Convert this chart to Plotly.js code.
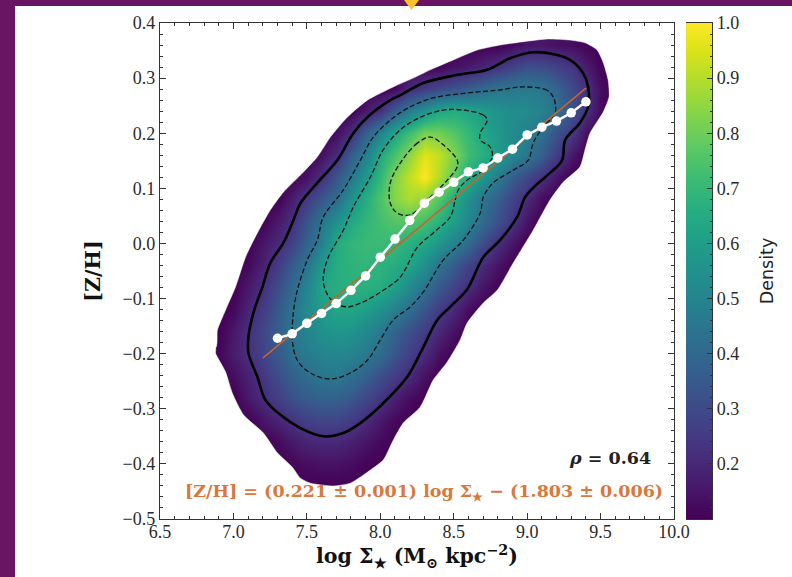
<!DOCTYPE html>
<html>
<head>
<meta charset="utf-8">
<script src="https://cdn.plot.ly/plotly-3.0.1.min.js"></script>
<style>
html,body{margin:0;padding:0;width:792px;height:577px;overflow:hidden;background:#6a1464;}
#chart{position:absolute;left:15px;top:6px;width:777px;height:571px;background:#fff;}
#marker{position:absolute;left:404px;top:0;width:15px;height:10px;background:#fbc02d;clip-path:polygon(0 0,100% 0,50% 100%);z-index:5;}
</style>
</head>
<body>
<div id="chart"></div>
<div id="marker"></div>
<script>
const gridX = [6.8,6.9,7.0,7.1,7.2,7.3,7.4,7.5,7.6,7.7,7.8,7.9,8.0,8.1,8.2,8.3,8.4,8.5,8.6,8.7,8.8,8.9,9.0,9.1,9.2,9.3,9.4,9.5,9.6];
const gridY = [0.36,0.32,0.28,0.24,0.20,0.16,0.12,0.08,0.04,0.0,-0.04,-0.08,-0.12,-0.16,-0.20,-0.24,-0.28,-0.32,-0.36,-0.40,-0.44];
const density = [
[.1,.1,.1,.1,.1,.1,.1,.1,.1,.1,.1,.1,.1,.1,.1,.1,.1,.1,.1,.1,.1,.12,.15,.155,.14,.13,.11,.1,.1],
[.1,.1,.1,.1,.1,.1,.1,.1,.1,.1,.1,.1,.1,.1,.1,.1,.11,.14,.16,.19,.23,.28,.32,.31,.28,.24,.17,.11,.1],
[.1,.1,.1,.1,.1,.1,.1,.1,.1,.1,.1,.1,.1,.12,.21,.26,.3,.33,.37,.41,.45,.46,.47,.46,.39,.31,.23,.13,.1],
[.1,.1,.1,.1,.1,.1,.1,.1,.1,.1,.1,.16,.23,.36,.48,.56,.63,.66,.63,.6,.56,.54,.53,.5,.44,.33,.23,.12,.1],
[.1,.1,.1,.1,.1,.1,.1,.1,.1,.13,.21,.37,.5,.63,.72,.82,.81,.76,.7,.64,.58,.53,.49,.43,.33,.25,.14,.1,.1],
[.1,.1,.1,.1,.1,.1,.1,.1,.14,.21,.36,.49,.65,.74,.85,.96,.92,.83,.72,.67,.6,.52,.46,.37,.26,.16,.1,.1,.1],
[.1,.1,.1,.1,.1,.1,.1,.14,.22,.34,.45,.58,.7,.83,.92,1.0,.9,.78,.65,.58,.48,.37,.3,.23,.15,.1,.1,.1,.1],
[.1,.1,.1,.1,.1,.1,.17,.25,.34,.42,.55,.66,.75,.84,.89,.85,.76,.65,.55,.45,.37,.28,.21,.13,.1,.1,.1,.1,.1],
[.1,.1,.1,.1,.1,.16,.22,.33,.45,.55,.64,.69,.73,.76,.76,.73,.68,.61,.51,.42,.33,.24,.15,.1,.1,.1,.1,.1,.1],
[.1,.1,.1,.1,.15,.2,.27,.38,.49,.65,.69,.71,.71,.7,.67,.64,.58,.5,.41,.31,.22,.15,.1,.1,.1,.1,.1,.1,.1],
[.1,.1,.1,.12,.18,.26,.35,.45,.58,.66,.68,.69,.68,.66,.63,.55,.45,.36,.28,.21,.15,.1,.1,.1,.1,.1,.1,.1,.1],
[.1,.1,.1,.16,.22,.31,.41,.51,.63,.66,.67,.67,.66,.61,.52,.44,.35,.28,.21,.15,.1,.1,.1,.1,.1,.1,.1,.1,.1],
[.1,.1,.12,.19,.26,.35,.44,.53,.59,.63,.63,.6,.55,.49,.42,.33,.26,.2,.13,.1,.1,.1,.1,.1,.1,.1,.1,.1,.1],
[.1,.1,.16,.22,.29,.37,.45,.5,.55,.57,.56,.52,.46,.39,.32,.26,.2,.14,.1,.1,.1,.1,.1,.1,.1,.1,.1,.1,.1],
[.1,.11,.17,.22,.28,.35,.43,.47,.5,.51,.5,.47,.41,.34,.27,.21,.14,.1,.1,.1,.1,.1,.1,.1,.1,.1,.1,.1,.1],
[.1,.1,.13,.18,.24,.31,.37,.42,.45,.46,.43,.38,.32,.26,.21,.14,.1,.1,.1,.1,.1,.1,.1,.1,.1,.1,.1,.1,.1],
[.1,.1,.1,.16,.21,.27,.32,.36,.38,.38,.35,.3,.24,.18,.13,.1,.1,.1,.1,.1,.1,.1,.1,.1,.1,.1,.1,.1,.1],
[.1,.1,.1,.1,.15,.19,.23,.27,.29,.29,.26,.21,.16,.12,.1,.1,.1,.1,.1,.1,.1,.1,.1,.1,.1,.1,.1,.1,.1],
[.1,.1,.1,.1,.1,.12,.16,.19,.2,.2,.18,.15,.12,.1,.1,.1,.1,.1,.1,.1,.1,.1,.1,.1,.1,.1,.1,.1,.1],
[.1,.1,.1,.1,.1,.1,.11,.13,.14,.14,.13,.11,.1,.1,.1,.1,.1,.1,.1,.1,.1,.1,.1,.1,.1,.1,.1,.1,.1],
[.1,.1,.1,.1,.1,.1,.1,.1,.1,.1,.1,.1,.1,.1,.1,.1,.1,.1,.1,.1,.1,.1,.1,.1,.1,.1,.1,.1,.1]
];
const edgeX = [6.878,6.878,6.946,6.993,7.068,7.204,7.299,7.401,7.456,7.524,7.680,7.796,7.912,8.020,8.088,8.156,8.272,8.360,8.456,8.544,8.592,8.701,8.796,8.904,9.041,9.156,9.245,9.360,9.394,9.428,9.517,9.558,9.551,9.517,9.476,9.395,9.292,9.136,8.973,8.816,8.660,8.497,8.340,8.224,8.088,7.912,7.775,7.660,7.571,7.456,7.340,7.252,7.163,7.082,7.014,6.946,6.891,6.878];
const edgeY = [-0.190,-0.199,-0.233,-0.272,-0.311,-0.344,-0.380,-0.406,-0.426,-0.435,-0.440,-0.435,-0.415,-0.393,-0.357,-0.326,-0.297,-0.248,-0.215,-0.175,-0.144,-0.108,-0.085,-0.036,0.024,0.079,0.111,0.139,0.170,0.200,0.238,0.266,0.297,0.329,0.351,0.364,0.369,0.371,0.366,0.360,0.351,0.333,0.315,0.300,0.284,0.260,0.229,0.193,0.157,0.124,0.093,0.061,0.019,-0.025,-0.079,-0.121,-0.157,-0.190];
const solidX = [8.293,8.136,8.068,7.912,7.816,7.707,7.571,7.456,7.408,7.340,7.252,7.197,7.136,7.102,7.102,7.163,7.218,7.320,7.456,7.612,7.748,7.864,8.020,8.184,8.293,8.388,8.476,8.592,8.701,8.816,8.932,8.986,9.041,9.156,9.238,9.259,9.360,9.415,9.415,9.381,9.292,9.204,9.041,8.884,8.728,8.524,8.293];
const solidY = [0.291,0.269,0.260,0.229,0.200,0.151,0.110,0.073,0.042,0.001,-0.035,-0.079,-0.126,-0.170,-0.199,-0.242,-0.284,-0.311,-0.335,-0.350,-0.344,-0.326,-0.290,-0.242,-0.188,-0.139,-0.115,-0.083,-0.025,0.006,0.048,0.084,0.101,0.128,0.151,0.188,0.219,0.248,0.284,0.309,0.333,0.342,0.347,0.336,0.315,0.306,0.291];
const dash1X = [9.177,9.136,8.973,8.796,8.592,8.360,8.204,8.088,7.952,7.864,7.748,7.612,7.571,7.503,7.435,7.408,7.401,7.435,7.524,7.660,7.796,7.912,8.000,8.088,8.204,8.293,8.429,8.565,8.680,8.701,8.769,8.905,9.007,9.041,9.102,9.190,9.190,9.177];
const dash1Y = [0.266,0.278,0.284,0.278,0.273,0.264,0.248,0.228,0.193,0.151,0.097,0.048,0.006,-0.030,-0.085,-0.126,-0.175,-0.212,-0.235,-0.246,-0.235,-0.212,-0.175,-0.139,-0.115,-0.088,-0.030,0.006,0.055,0.084,0.110,0.133,0.151,0.182,0.209,0.237,0.255,0.266];
const dash2X = [8.728,8.701,8.565,8.429,8.272,8.136,8.020,7.932,7.816,7.748,7.646,7.612,7.626,7.680,7.775,7.884,8.020,8.136,8.252,8.360,8.476,8.510,8.531,8.592,8.701,8.762,8.748,8.680,8.680,8.728];
const dash2Y = [0.224,0.233,0.242,0.242,0.229,0.206,0.170,0.120,0.066,0.024,-0.025,-0.061,-0.085,-0.106,-0.115,-0.106,-0.085,-0.061,-0.007,0.019,0.048,0.079,0.097,0.115,0.133,0.157,0.175,0.188,0.200,0.224];
const dash3X = [8.340,8.252,8.136,8.068,8.068,8.116,8.204,8.340,8.456,8.524,8.524,8.429,8.340];
const dash3Y = [0.193,0.182,0.146,0.110,0.073,0.055,0.052,0.084,0.115,0.139,0.151,0.179,0.193];
const medianX = [7.3,7.4,7.5,7.6,7.7,7.8,7.9,8.0,8.1,8.2,8.3,8.4,8.5,8.6,8.7,8.8,8.9,9.0,9.1,9.2,9.3,9.4];
const medianY = [-0.172,-0.164,-0.145,-0.127,-0.109,-0.085,-0.059,-0.025,0.008,0.042,0.073,0.093,0.111,0.130,0.137,0.155,0.171,0.197,0.211,0.222,0.237,0.257];
const fitX = [7.2,9.4];
const fitY = [-0.208,0.282];
const barLevels = [0.1,0.2,0.3,0.4,0.5,0.6,0.7,0.8,0.9,1.0];
const xTicks = [6.5,7.0,7.5,8.0,8.5,9.0,9.5,10.0];
const xTickText = ["6.5","7.0","7.5","8.0","8.5","9.0","9.5","10.0"];
const yTicks = [-0.5,-0.4,-0.3,-0.2,-0.1,0.0,0.1,0.2,0.3,0.4];
const yTickText = ["−0.5","−0.4","−0.3","−0.2","−0.1","0.0","0.1","0.2","0.3","0.4"];
const barTicks = [0.2,0.3,0.4,0.5,0.6,0.7,0.8,0.9,1.0];
const barTickText = ["0.2","0.3","0.4","0.5","0.6","0.7","0.8","0.9","1.0"];

const serif = "Liberation Serif, DejaVu Serif, serif";
const wide = "DejaVu Serif, Liberation Serif, serif";
const ink = "#2b2b2b";
const axisBase = {
  showgrid:false, zeroline:false, showline:true, linecolor:"#333", linewidth:1.2,
  ticks:"inside", ticklen:6, tickwidth:1.2, tickcolor:"#333", tickfont:{family:serif,size:18,color:ink}
};

// white surround outside the density footprint, wound opposite to the footprint so it stays open
const maskX = [6.5].concat(edgeX,[6.5,6.5,10,10,6.5,6.5]);
const maskY = [-0.19].concat(edgeY,[-0.19,0.4,0.4,-0.5,-0.5,-0.19]);
const contourDash = "5px,2.5px";

const traces = [
  {type:"heatmap",x:gridX,y:gridY,z:density,colorscale:"Viridis",zmin:0.1,zmax:1,zsmooth:"best",showscale:false,hoverinfo:"skip"},
  {type:"scatter",mode:"lines",x:maskX,y:maskY,fill:"toself",fillcolor:"#fff",line:{color:"#fff",width:0.5,shape:"spline",smoothing:0.6},hoverinfo:"skip",showlegend:false},
  {type:"scatter",mode:"lines",x:solidX,y:solidY,line:{color:"#000",width:2.6,shape:"spline",smoothing:1},showlegend:false},
  {type:"scatter",mode:"lines",x:dash1X,y:dash1Y,line:{color:"#111",width:1.3,dash:contourDash,shape:"spline",smoothing:1},showlegend:false},
  {type:"scatter",mode:"lines",x:dash2X,y:dash2Y,line:{color:"#111",width:1.3,dash:contourDash,shape:"spline",smoothing:1},showlegend:false},
  {type:"scatter",mode:"lines",x:dash3X,y:dash3Y,line:{color:"#111",width:1.3,dash:contourDash,shape:"spline",smoothing:1},showlegend:false},
  {type:"scatter",mode:"lines",x:fitX,y:fitY,line:{color:"#c8642a",width:1.6},showlegend:false},
  {type:"scatter",mode:"lines+markers",x:medianX,y:medianY,line:{color:"#fff",width:2.4},marker:{color:"#fff",size:9.5},showlegend:false},
  {type:"heatmap",x:[0,1],y:barLevels,z:barLevels.map(v=>[v,v]),xaxis:"x2",yaxis:"y2",colorscale:"Viridis",zmin:0.1,zmax:1,zsmooth:"best",showscale:false,hoverinfo:"skip"}
];

const layout = {
  width:777,height:571,
  margin:{l:144.5,r:80,t:17,b:58,pad:0},
  paper_bgcolor:"#fff",plot_bgcolor:"#fff",
  showlegend:false,
  font:{family:serif,color:ink},
  xaxis:Object.assign({},axisBase,{domain:[0,0.9312],range:[6.5,10],tickmode:"array",tickvals:xTicks,ticktext:xTickText,mirror:"allticks",ticklabelstandoff:-4,
    minor:{tickmode:"linear",dtick:0.1,tick0:6.5,ticks:"inside",ticklen:3,tickwidth:1,tickcolor:"#333",showgrid:false},
    title:{text:"<b>log Σ<sub>★</sub> (M<sub>⊙</sub> kpc<sup>−2</sup>)</b>",font:{family:wide,size:20.5,color:"#111"},standoff:2}}),
  yaxis:Object.assign({},axisBase,{range:[-0.5,0.4],tickmode:"array",tickvals:yTicks,ticktext:yTickText,mirror:"allticks",
    minor:{tickmode:"linear",dtick:0.02,tick0:0,ticks:"inside",ticklen:3,tickwidth:1,tickcolor:"#333",showgrid:false},
    title:{text:"<b>[Z/H]</b>",font:{family:wide,size:20.5,color:"#111"},standoff:16}}),
  xaxis2:{domain:[0.9529,1],range:[0,1],anchor:"y2",showgrid:false,zeroline:false,showticklabels:false,ticks:"",showline:true,linecolor:"#333",linewidth:1.2,mirror:true},
  yaxis2:Object.assign({},axisBase,{anchor:"x2",side:"right",range:[0.1,1],tickmode:"array",tickvals:barTicks,ticktext:barTickText,ticklen:5,
    minor:{tickmode:"linear",dtick:0.02,tick0:0,ticks:"inside",ticklen:2.5,tickwidth:1,tickcolor:"#333",showgrid:false},
    title:{text:"Density",font:{family:"DejaVu Sans, sans-serif",size:17.5,color:"#222"},standoff:22}}),
  annotations:[
    {xref:"x",yref:"y",x:9.86,y:-0.39,xanchor:"right",yanchor:"middle",showarrow:false,
     text:"<b><i>ρ</i> = 0.64</b>",font:{family:wide,size:17.5,color:"#222"}},
    {xref:"x",yref:"y",x:9.94,y:-0.452,xanchor:"right",yanchor:"middle",showarrow:false,
     text:"<b>[Z/H] = (0.221 ± 0.001) log Σ<sub>★</sub> − (1.803 ± 0.006)</b>",font:{family:wide,size:17.5,color:"#d9783c"}}
  ]
};
Plotly.newPlot("chart",traces,layout,{displayModeBar:false,staticPlot:true});
</script>
</body>
</html>
